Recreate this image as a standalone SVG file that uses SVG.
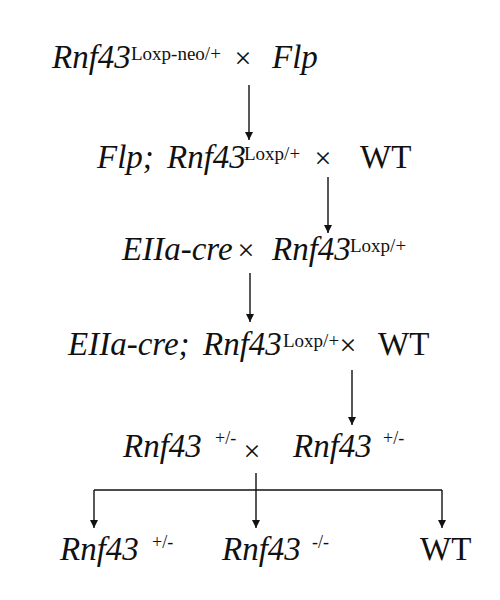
<svg xmlns="http://www.w3.org/2000/svg" width="500" height="600" viewBox="0 0 500 600" font-family="'Liberation Serif', 'Times New Roman', 'DejaVu Serif', serif">
<style>
text { font-family: 'Liberation Serif', 'Times New Roman', 'DejaVu Serif', serif; fill: #111; }
.g { font-size: 33px; font-style: italic; }
.r { font-size: 33px; }
.x { font-size: 30px; text-anchor: middle; }
.s { font-size: 19px; }
.p { font-size: 18px; }
.c { stroke: #111; stroke-width: 1.4; fill: none; }
</style>
<defs>
<marker id="ah" viewBox="0 0 10 10" refX="10" refY="5" markerWidth="8" markerHeight="8" markerUnits="userSpaceOnUse" orient="auto">
<path d="M0,0 L10,5 L0,10 Z" fill="#111"/>
</marker>
</defs>
<g id="connectors">
<line class="c" x1="249" y1="85" x2="249" y2="140" marker-end="url(#ah)"/>
<line class="c" x1="328" y1="177" x2="328" y2="233" marker-end="url(#ah)"/>
<line class="c" x1="250" y1="273" x2="250" y2="322" marker-end="url(#ah)"/>
<line class="c" x1="352" y1="370" x2="352" y2="425" marker-end="url(#ah)"/>
<line class="c" x1="256" y1="473" x2="256" y2="528" marker-end="url(#ah)"/>
<line class="c" x1="94" y1="490" x2="442" y2="490"/>
<line class="c" x1="94" y1="490" x2="94" y2="528" marker-end="url(#ah)"/>
<line class="c" x1="442" y1="490" x2="442" y2="528" marker-end="url(#ah)"/>
</g>
<g id="cross1">
<text class="g" x="52" y="68">Rnf43</text>
<text class="s" x="131" y="60">Loxp-neo/+</text>
<text class="x" x="243" y="68">×</text>
<text class="g" x="272" y="68">Flp</text>
</g>
<g id="cross2">
<text class="g" x="97" y="168">Flp;</text>
<text class="g" x="167" y="168">Rnf43</text>
<text class="s" x="244" y="160">Loxp/+</text>
<text class="x" x="323" y="168">×</text>
<text class="r" x="360" y="168">WT</text>
</g>
<g id="cross3">
<text class="g" x="122" y="260">EIIa-cre</text>
<text class="x" x="246" y="260">×</text>
<text class="g" x="272" y="260">Rnf43</text>
<text class="s" x="350" y="252">Loxp/+</text>
</g>
<g id="cross4">
<text class="g" x="68" y="355">EIIa-cre;</text>
<text class="g" x="203" y="355">Rnf43</text>
<text class="s" x="283" y="347">Loxp/+</text>
<text class="x" x="348" y="355">×</text>
<text class="r" x="378" y="355">WT</text>
</g>
<g id="cross5">
<text class="g" x="123" y="457">Rnf43</text>
<text class="p" x="215" y="444">+/-</text>
<text class="x" x="252" y="461">×</text>
<text class="g" x="293" y="457">Rnf43</text>
<text class="p" x="383" y="444">+/-</text>
</g>
<g id="offspring-het">
<text class="g" x="60" y="560">Rnf43</text>
<text class="p" x="152" y="548">+/-</text>
</g>
<g id="offspring-ko">
<text class="g" x="222" y="560">Rnf43</text>
<text class="p" x="312" y="548">-/-</text>
</g>
<g id="offspring-wt">
<text class="r" x="420" y="560">WT</text>
</g>
</svg>
